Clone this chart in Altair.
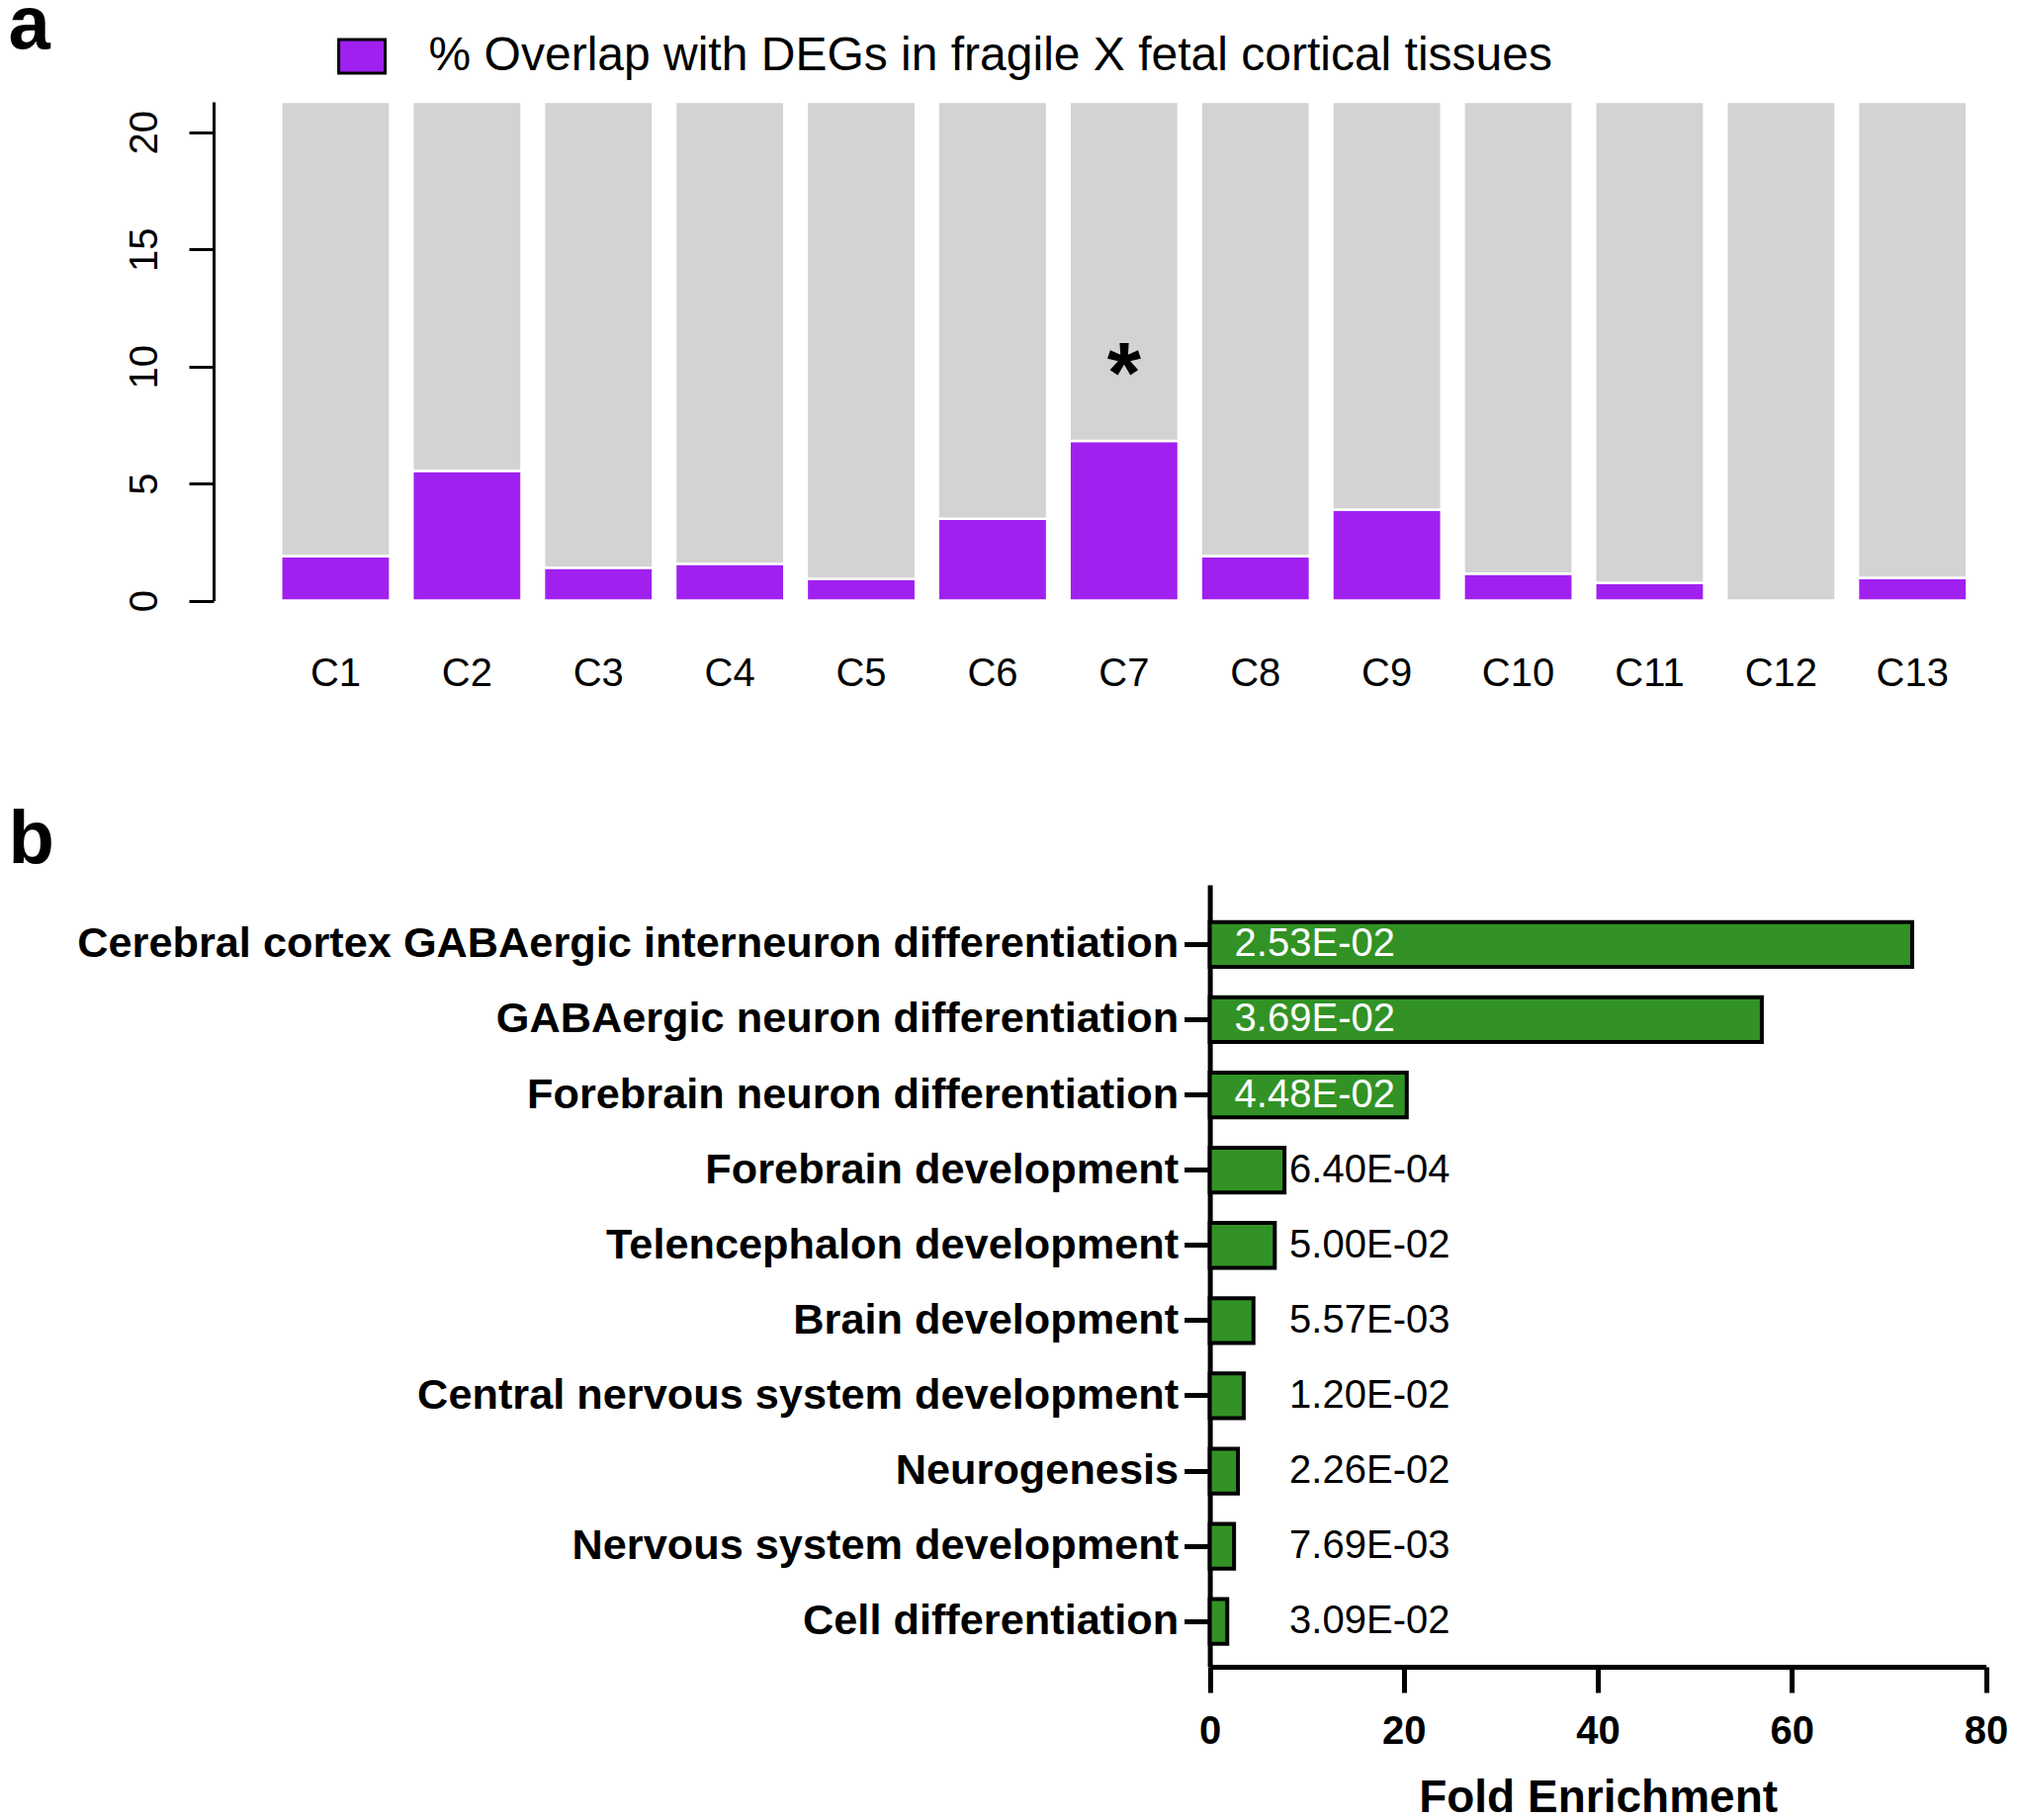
import altair as alt
import pandas as pd

FONT = "Liberation Sans"

# ---------------- panel a data ----------------
clusters = ["C1", "C2", "C3", "C4", "C5", "C6", "C7", "C8", "C9", "C10", "C11", "C12", "C13"]
overlap_pct = [1.90, 5.54, 1.40, 1.57, 0.93, 3.49, 6.82, 1.90, 3.88, 1.15, 0.76, 0.0, 0.97]
y_max_a = 21.3
y_ticks_a = [0, 5, 10, 15, 20]
legend_label = "% Overlap with DEGs in fragile X fetal cortical tissues"
sig_clusters = ["C7"]
sig_marks = ["*"]
sig_y = [10.3]

# ---------------- panel b data ----------------
go_terms = [
    "Cerebral cortex GABAergic interneuron differentiation",
    "GABAergic neuron differentiation",
    "Forebrain neuron differentiation",
    "Forebrain development",
    "Telencephalon development",
    "Brain development",
    "Central nervous system development",
    "Neurogenesis",
    "Nervous system development",
    "Cell differentiation",
]
fold_enrichment = [72.4, 56.9, 20.3, 7.7, 6.7, 4.5, 3.5, 2.9, 2.5, 1.8]
p_values = ["2.53E-02", "3.69E-02", "4.48E-02", "6.40E-04", "5.00E-02",
            "5.57E-03", "1.20E-02", "2.26E-02", "7.69E-03", "3.09E-02"]
x_ticks_b = [0, 20, 40, 60, 80]
inside_threshold = 15

PURPLE = "#A020F0"
GRAY = "#D3D3D3"
GREEN = "#329225"

PLOT_W = 1731.7             # width of the top panel's plot area
B_X0, B_X1 = 952.6, 1737.6  # pixel span of the bottom panel's fold-enrichment axis
TAG_X = -262.4              # panel letters, relative to the plot origin

# ================= panel a =================
df_a = pd.DataFrame({"cluster": clusters, "overlap": overlap_pct, "series": legend_label})
df_sig = pd.DataFrame({"cluster": sig_clusters, "y": sig_y, "mark": sig_marks})

x_a = alt.X(
    "cluster:N", sort=clusters,
    scale=alt.Scale(paddingInner=0.170, paddingOuter=0.1),
    axis=alt.Axis(title=None, labelAngle=0, domain=False, ticks=False, tickSize=0,
                  labelPadding=54, labelFontSize=40, labelFont=FONT, labelColor="black"),
)
y_scale_a = alt.Scale(domain=[0, y_max_a], nice=False, zero=True)
y_axis_a = alt.Axis(
    title=None, values=y_ticks_a, offset=55, tickSize=25, tickWidth=3, domainWidth=3,
    labelAngle=270, labelAlign="center", labelBaseline="alphabetic", labelPadding=33,
    labelFontSize=40, labelFont=FONT, labelColor="black", labelFlush=False, grid=False,
)

gray = alt.Chart(df_a).mark_bar(color=GRAY, stroke="white", strokeWidth=2.5).encode(
    x=x_a,
    y=alt.Y("overlap:Q", scale=y_scale_a, axis=y_axis_a),
    y2=alt.datum(y_max_a),
)

purple = alt.Chart(df_a).mark_bar(stroke="white", strokeWidth=2.5).encode(
    x=x_a,
    y=alt.Y("overlap:Q", scale=y_scale_a, stack=None),
    color=alt.Color(
        "series:N",
        scale=alt.Scale(domain=[legend_label], range=[PURPLE]),
        legend=alt.Legend(
            title=None, orient="none", legendX=70.1, legendY=-71,
            symbolType="M-1,-0.72H1V0.72H-1Z", symbolSize=2209,
            symbolStrokeColor="black", symbolStrokeWidth=3,
            labelFontSize=48, labelFont=FONT, labelColor="black",
            labelOffset=42.5, labelLimit=0, padding=0,
        ),
    ),
)

star = alt.Chart(df_sig).mark_text(
    fontSize=88, fontWeight="bold", font=FONT, baseline="middle", align="center", dy=17, color="black"
).encode(x=x_a, y=alt.Y("y:Q", scale=y_scale_a), text="mark:N")

tag_a = alt.Chart(pd.DataFrame({"tag": ["a"]})).mark_text(
    fontSize=76, fontWeight="bold", font=FONT, align="left", baseline="alphabetic", color="black"
).encode(text="tag:N", x=alt.value(TAG_X), y=alt.value(-54))

panel_a = alt.layer(purple, gray, star, tag_a).properties(width=PLOT_W, height=504.5)

# ================= panel b =================
df_b = pd.DataFrame({"term": go_terms, "fold": fold_enrichment, "p": p_values})

y_b = alt.Y(
    "term:N", sort=go_terms,
    scale=alt.Scale(paddingInner=0.405, paddingOuter=0.4, align=0.62),
    axis=alt.Axis(title=None, offset=-B_X0, domainWidth=5, tickSize=26, tickWidth=5, labelPadding=6,
                  labelFontSize=43.3, labelFontWeight="bold", labelFont=FONT, labelColor="black",
                  labelLimit=0),
)
x_scale_b = alt.Scale(domain=[0, 80], nice=False, range=[B_X0, B_X1])
x_b = alt.X(
    "fold:Q", scale=x_scale_b,
    axis=alt.Axis(values=x_ticks_b, title="Fold Enrichment", domainWidth=5, tickSize=26,
                  tickWidth=5, labelFontSize=40, labelFontWeight="bold", labelFont=FONT,
                  labelColor="black", labelPadding=19, labelFlush=False,
                  titleFontSize=46, titleFontWeight="bold", titleFont=FONT, titleColor="black",
                  titlePadding=25, grid=False),
)

bars_b = alt.Chart(df_b).mark_bar(color=GREEN, stroke="black", strokeWidth=4).encode(x=x_b, y=y_b)

txt_in = alt.Chart(df_b).transform_filter(alt.datum.fold > inside_threshold).mark_text(
    align="left", baseline="middle", fontSize=40, font=FONT, color="white", dx=25
).encode(x=alt.datum(0, scale=x_scale_b), y=y_b, text="p:N")

txt_out = alt.Chart(df_b).transform_filter(alt.datum.fold <= inside_threshold).mark_text(
    align="left", baseline="middle", fontSize=40, font=FONT, color="black", dx=80.5
).encode(x=alt.datum(0, scale=x_scale_b), y=y_b, text="p:N")

tag_b = alt.Chart(pd.DataFrame({"tag": ["b"]})).mark_text(
    fontSize=76, fontWeight="bold", font=FONT, align="left", baseline="alphabetic", color="black"
).encode(text="tag:N", x=alt.value(TAG_X), y=alt.value(-21.7))

panel_b = alt.layer(bars_b, txt_in, txt_out, tag_b).properties(width=B_X1, height=791)

chart = alt.vconcat(panel_a, panel_b, spacing=110).properties(
    padding={"left": 0, "top": -20, "right": 0, "bottom": -6}
).configure_view(stroke=None).configure_axis(
    domainColor="black", tickColor="black", grid=False
)

chart.save("out.html", embed_options={"renderer": "svg", "actions": False})
